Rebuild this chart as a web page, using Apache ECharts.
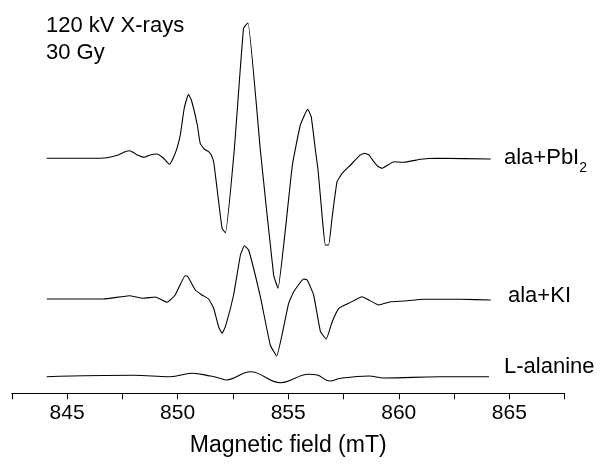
<!DOCTYPE html>
<html>
<head>
<meta charset="utf-8">
<script src="https://cdn.jsdelivr.net/npm/echarts@6/dist/echarts.min.js"></script>
<style>
html,body{margin:0;padding:0;background:#fff;}
#chart{width:603px;height:465px;}
</style>
</head>
<body>
<div id="chart"></div>
<script>
// Magnetic field (mT) and signal (arb. units, relative to each trace's baseline)
const fieldPbI2 = [844.08, 846.04, 846.80, 847.31, 847.60, 847.82, 848.00, 848.13, 848.49, 848.76, 849.06, 849.35, 849.63, 849.80, 849.97, 850.12, 850.30, 850.49, 850.62, 850.89, 851.02, 851.20, 851.40, 851.52, 851.63, 851.79, 852.01, 852.16, 852.56, 852.98, 853.18, 853.74, 854.34, 854.54, 854.87, 855.19, 855.55, 855.88, 856.04, 856.23, 856.35, 856.55, 856.68, 856.83, 856.99, 857.21, 857.44, 857.82, 858.25, 858.46, 858.65, 858.87, 859.05, 859.25, 859.45, 859.78, 860.23, 860.99, 861.74, 864.16];
const signalPbI2 = [0, 0, 0.6, 3.3, 6.2, 7.6, 5.8, 3.8, 1, 3.3, 4.3, 0.3, -6, 0.3, 10, 23.3, 50.3, 64, 58.3, 33.3, 15, 9.3, 6.6, 3.3, -3.7, -31.7, -70, -74.4, 8.3, 130, 135.6, 8.3, -116.7, -130, -71.7, -6.7, 33.3, 49, 41.6, 8.3, -11.7, -61.7, -86.7, -86.7, -58.4, -23.4, -15, -6.7, 3.2, 5, 3.4, -3.4, -8, -10, -7.5, -3.4, -4, -1, 0, -0.7];

const fieldKI = [844.08, 846.64, 847.82, 848.43, 848.99, 849.52, 849.89, 850.34, 850.45, 850.80, 851.10, 851.40, 851.63, 851.85, 852.01, 852.16, 852.53, 852.84, 853.02, 853.21, 853.74, 854.19, 854.48, 854.72, 855.02, 855.25, 855.70, 855.86, 856.15, 856.46, 856.72, 856.99, 857.29, 857.74, 858.35, 858.64, 859.10, 859.63, 860.23, 861.14, 862.80, 864.16];
const signalKI = [0, 0, 3.3, 0.7, 2, -3.3, 4, 23.3, 22.7, 9, 4, 0, -9.3, -27.7, -34.3, -27.7, 4, 44, 53.3, 49, 2.3, -46, -57, -36, -4.3, 7.3, 20, 19, 4, -32.7, -40, -22.7, -9.3, -4.3, 2.3, -1, -6, -2.7, -2, -0.3, -0.3, -1];

const fieldAla = [844.08, 848.00, 849.66, 850.65, 851.48, 851.90, 852.20, 853.29, 854.65, 855.93, 856.31, 856.88, 857.36, 858.65, 859.33, 861.89, 864.08];
const signalAla = [0, 1.4, 0, 3.4, 0.7, -1.5, -3.3, 5, -6, 2.4, 1.7, -4.3, -1.6, 0.7, -1.3, 0, 0];

// vertical offsets of the stacked spectra
const offsetPbI2 = 235;
const offsetKI = 94.3;
const offsetAla = 16.6;

const seriesLabels = ['ala+PbI{sub|2}', 'ala+KI', 'L-alanine'];
const noteLines = ['120 kV X-rays', '30 Gy'];
const axisTitle = 'Magnetic field (mT)';

function build(fields, signals, offset) {
  return fields.map((f, i) => [f, offset + signals[i]]);
}

const FONT = '"Liberation Sans", Arial, sans-serif';
const chart = echarts.init(document.getElementById('chart'), null, {renderer: 'canvas'});

const lineStyle = {color: '#000', width: 1.1};

chart.setOption({
  animation: false,
  backgroundColor: '#fff',
  grid: {left: 11.8, right: 38.4, top: 13.3, bottom: 71.7},
  xAxis: {
    type: 'value',
    min: 842.5,
    max: 867.5,
    interval: 2.5,
    name: axisTitle,
    nameLocation: 'middle',
    nameGap: 41,
    nameTextStyle: {color: '#000', fontSize: 23, fontFamily: FONT},
    axisLine: {show: true, onZero: false, lineStyle: {color: '#000', width: 1}},
    axisTick: {show: true, inside: false, length: 6, lineStyle: {color: '#000', width: 1}},
    axisLabel: {
      show: true, margin: 9, color: '#000', fontSize: 21, fontFamily: FONT,
      formatter: v => (Math.abs(v % 5) < 1e-6 ? String(v) : '')
    },
    splitLine: {show: false}
  },
  yAxis: {
    type: 'value', min: 0, max: 380, show: false, splitLine: {show: false}
  },
  series: [
    {type: 'line', data: build(fieldPbI2, signalPbI2, offsetPbI2), symbol: 'none', smooth: 0.12, lineStyle: lineStyle, silent: true},
    {type: 'line', data: build(fieldKI, signalKI, offsetKI), symbol: 'none', smooth: 0.12, lineStyle: lineStyle, silent: true},
    {type: 'line', data: build(fieldAla, signalAla, offsetAla), symbol: 'none', smooth: 0.4, lineStyle: lineStyle, silent: true}
  ],
  graphic: [
    {type: 'text', left: 46, top: 15, style: {text: noteLines[0], fill: '#000', font: '22px ' + FONT}},
    {type: 'text', left: 46, top: 42, style: {text: noteLines[1], fill: '#000', font: '22px ' + FONT}},
    {type: 'text', x: 504, y: 158, style: {
      text: seriesLabels[0], fill: '#000', verticalAlign: 'middle',
      rich: {
        sub: {fontSize: 14, fontFamily: FONT, fill: '#000', verticalAlign: 'bottom', lineHeight: 34}
      },
      fontSize: 22, fontFamily: FONT, lineHeight: 34
    }},
    {type: 'text', x: 508, y: 295.5, style: {text: seriesLabels[1], fill: '#000', verticalAlign: 'middle', font: '22px ' + FONT}},
    {type: 'text', x: 504, y: 367, style: {text: seriesLabels[2], fill: '#000', verticalAlign: 'middle', font: '22px ' + FONT}}
  ]
});
</script>
</body>
</html>
